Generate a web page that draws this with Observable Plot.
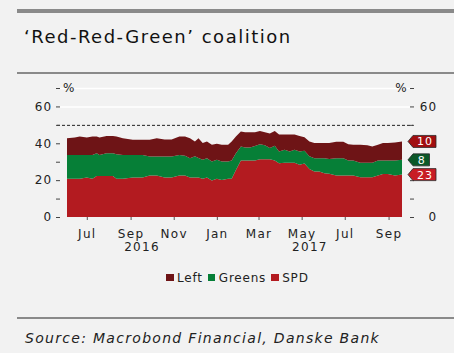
<!DOCTYPE html>
<html><head><meta charset="utf-8">
<script src="https://cdn.jsdelivr.net/npm/d3@7"></script>
<script src="https://cdn.jsdelivr.net/npm/@observablehq/plot@0.6"></script>
<style>
html,body{margin:0;padding:0;background:#f2f2f2;}
#page{position:relative;width:454px;height:353px;background:#f2f2f2;overflow:hidden;font-family:"DejaVu Sans",sans-serif;}
.bar{position:absolute;left:17px;width:437px;background:#8a8a8a;}
#title{position:absolute;left:24px;top:28.1px;margin:0;font-size:18px;line-height:18px;font-weight:normal;color:#111;letter-spacing:1.5px;white-space:nowrap;}
#chart{position:absolute;left:0;top:76px;}
#legend{position:absolute;left:166px;top:271.5px;display:flex;align-items:center;font-size:12px;line-height:12px;letter-spacing:0.8px;color:#222;white-space:nowrap;}
#legend .sw{display:inline-block;width:7.5px;height:7.5px;margin-right:3.5px;}
#legend .it{display:flex;align-items:center;margin-right:5px;}
#source{position:absolute;left:25px;top:331px;font-size:14px;line-height:14px;font-style:italic;color:#222;letter-spacing:1.3px;white-space:nowrap;}
</style>
</head><body>
<div id="page">
  <div class="bar" style="top:9.3px;height:3.4px;"></div>
  <div id="title">‘Red-Red-Green’ coalition</div>
  <div class="bar" style="top:72px;height:1.5px;"></div>
  <div id="chart"></div>
  <div id="legend"></div>
  <div class="bar" style="top:317px;height:1.5px;"></div>
  <div id="source">Source: Macrobond Financial, Danske Bank</div>
</div>
<script>
// ---- data (poll shares, %) ----
const dates = ["2016-06-03","2016-06-14","2016-06-21","2016-07-01","2016-07-09","2016-07-15","2016-07-19","2016-07-29","2016-08-07","2016-08-12","2016-08-21","2016-09-04","2016-09-18","2016-09-28","2016-10-08","2016-10-19","2016-10-29","2016-11-09","2016-11-17","2016-11-24","2016-12-01","2016-12-06","2016-12-12","2016-12-18","2016-12-25","2017-01-01","2017-01-08","2017-01-17","2017-01-22","2017-01-28","2017-02-04","2017-02-10","2017-02-17","2017-02-24","2017-03-03","2017-03-10","2017-03-17","2017-03-24","2017-03-30","2017-04-07","2017-04-14","2017-04-21","2017-04-28","2017-05-05","2017-05-12","2017-05-19","2017-05-26","2017-06-02","2017-06-09","2017-06-19","2017-06-29","2017-07-06","2017-07-13","2017-07-23","2017-08-02","2017-08-09","2017-08-17","2017-08-24","2017-08-31","2017-09-10","2017-09-20"];
const spd    = [20.7,20.7,20.7,21.5,20.7,22.3,22.3,22.3,22.3,20.7,20.7,21.5,21.5,22.5,22.5,21.5,21.5,22.5,22.5,21.5,21.5,21.5,20.7,21.5,19.8,20.7,20.1,20.7,20.7,25.5,30.6,30.6,30.6,30.6,31.4,31.4,31.4,30.6,29.2,29.5,29.5,29.5,28.3,29.0,26.0,24.7,24.7,23.8,23.5,22.5,22.5,22.5,22.5,21.6,21.6,21.6,22.5,23.4,23.4,22.5,23.0];
const greens = [13.0,13.0,13.0,12.2,13.0,12.3,11.4,12.3,12.3,13.3,13.0,12.2,12.2,10.3,10.3,11.3,11.3,11.2,10.7,10.4,11.5,10.5,10.3,10.4,10.3,10.3,10.0,9.4,9.9,9.1,7.6,7.1,7.1,7.9,8.1,7.6,6.0,8.0,6.3,7.0,6.0,7.0,7.2,7.0,7.0,7.2,7.2,8.1,8.0,9.4,9.4,8.1,8.1,7.9,7.9,7.9,8.1,7.2,7.2,8.1,8.0];
const left   = [9.1,9.5,10.0,9.4,10.0,9.1,9.5,9.4,9.4,9.7,9.1,8.2,8.2,9.1,10.0,9.2,9.2,10.0,10.5,10.9,8.0,10.8,9.1,9.1,9.1,8.7,9.1,9.1,10.4,9.1,8.2,8.3,8.3,7.5,7.1,7.0,7.9,8.0,9.3,8.3,9.3,8.3,8.5,7.3,8.0,8.2,8.2,8.2,8.6,8.9,8.9,8.9,8.6,9.7,9.5,8.7,8.6,9.5,9.5,9.8,10.0];
const parties = ["Left","Greens","SPD"];
const partyColors = ["#6e1416","#067f37","#b31b20"];
const tagColors = ["#a10e10","#0b5828","#c81d25"];
const latest = [10, 8, 23];            // latest values shown in the tags
const yTicks = [0,10,20,30,40,50,60,70];
const yLabelsLeft = [0,20,40,60];
const yLabelsRight = [0,60];
const years = ["2016","2017"];
const unitLabel = "%";

// ---- build table ----
const parse = d3.utcParse("%Y-%m-%d");
const series = {Left: left, Greens: greens, SPD: spd};
const rows = [];
dates.forEach((d, i) => {
  for (const p of ["SPD","Greens","Left"]) rows.push({date: parse(d), party: p, value: series[p][i]});
});
const x0 = parse(dates[0]), x1 = parse(dates[dates.length - 1]);

// year label positions: middle of each year's visible span
const yearRows = years.map(y => {
  const a = new Date(Math.max(+x0, +parse(y + "-01-01")));
  const b = new Date(Math.min(+x1, +parse(y + "-12-31")));
  return {date: new Date((+a + +b) / 2), label: y};
});

// tags: stacked tops at the last date
const n = dates.length - 1;
const tops = {SPD: spd[n], Greens: spd[n] + greens[n], Left: spd[n] + greens[n] + left[n]};
const tags = parties.map((p, i) => ({party: p, top: tops[p], label: String(latest[i]), color: tagColors[i]}));

function tagMark(index, scales, values, dimensions) {
  const g = d3.create("svg:g");
  const xr = dimensions.width - dimensions.marginRight;
  for (const t of tags) {
    const cy = scales.y(t.top);
    const w = 10 + 6.5 * t.label.length;
    const tip = xr + 6, bl = xr + 11, br = bl + w, h = 6;
    g.append("path")
      .attr("d", `M${tip},${cy}L${bl},${cy - h}L${br},${cy - h}L${br},${cy + h}L${bl},${cy + h}Z`)
      .attr("fill", t.color).attr("stroke", "#2a2a2a").attr("stroke-width", 0.8);
    g.append("text")
      .attr("x", (bl + br) / 2 + 0.5).attr("y", cy).attr("dy", "0.36em")
      .attr("text-anchor", "middle").attr("fill", "white")
      .attr("font-size", 11).attr("letter-spacing", "1px")
      .text(t.label);
  }
  return g.node();
}

const chart = Plot.plot({
  width: 454, height: 186,
  marginLeft: 67, marginRight: 52, marginTop: 12, marginBottom: 45,
  style: {background: "transparent", fontFamily: "DejaVu Sans, sans-serif", fontSize: "12px", color: "#222", letterSpacing: "1.3px"},
  x: {type: "utc", domain: [x0, x1], label: null},
  y: {domain: [0, 70], label: null},
  color: {domain: parties, range: partyColors},
  marks: [
    Plot.ruleY([60, 70], {stroke: "white", strokeWidth: 1.5, insetLeft: -7, insetRight: -8}),
    Plot.areaY(rows, {x: "date", y: "value", fill: "party", z: "party", order: ["SPD","Greens","Left"]}),
    Plot.ruleY([50], {stroke: "#222", strokeWidth: 1, strokeDasharray: "3,2", insetLeft: -10, insetRight: -11}),
    Plot.axisY(yTicks, {anchor: "left", label: null, tickSize: 4, tickPadding: 4, dx: -7, stroke: "#444",
      tickFormat: d => yLabelsLeft.includes(d) ? d : ""}),
    Plot.axisY(yTicks, {anchor: "right", label: null, tickSize: 4, tickPadding: 24, dx: 7, stroke: "#444", textAnchor: "end",
      tickFormat: d => yLabelsRight.includes(d) ? d : ""}),
    Plot.text([unitLabel], {frameAnchor: "left", y: [70], text: d => d, textAnchor: "start", dx: -4.5, fill: "#222"}),
    Plot.text([unitLabel], {frameAnchor: "right", y: [70], text: d => d, textAnchor: "end", dx: 5.5, fill: "#222"}),
    Plot.axisX({anchor: "bottom", label: null, ticks: d3.utcMonth.every(2), tickSize: 3, tickPadding: 9, stroke: "#555",
      tickFormat: d3.utcFormat("%b")}),
    Plot.text(yearRows, {x: "date", text: "label", frameAnchor: "bottom", dy: 33, fill: "#222"}),
    tagMark
  ]
});
document.getElementById("chart").appendChild(chart);

// legend
const lg = document.getElementById("legend");
parties.forEach((p, i) => {
  const it = document.createElement("span");
  it.className = "it";
  const sw = document.createElement("span");
  sw.className = "sw"; sw.style.background = partyColors[i];
  it.appendChild(sw);
  it.appendChild(document.createTextNode(p));
  lg.appendChild(it);
});
</script>
</body></html>
